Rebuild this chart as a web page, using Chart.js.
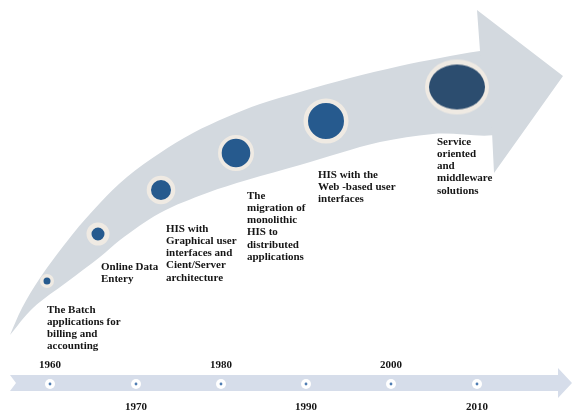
<!DOCTYPE html>
<html>
<head>
<meta charset="utf-8">
<script src="https://cdn.jsdelivr.net/npm/chart.js@4.4.1/dist/chart.umd.min.js"></script>
<style>
  html, body { margin: 0; padding: 0; background: #fff; }
  #wrap { width: 572px; height: 414px; position: relative; }
</style>
</head>
<body>
<div id="wrap"><canvas id="chart"></canvas></div>
<script>
// milestones along the big curved arrow
const milestoneX = [47, 98, 161, 236, 326, 457];
const milestoneY = [281, 234, 190, 153, 121, 87];

const milestoneText = [
    ['The Batch', 'applications for', 'billing and', 'accounting'],
    ['Online Data', 'Entery'],
    ['HIS with', 'Graphical user', 'interfaces and', 'Cient/Server', 'architecture'],
    ['The', 'migration of', 'monolithic', 'HIS to', 'distributed', 'applications'],
    ['HIS with the', 'Web -based user', 'interfaces'],
    ['Service', 'oriented', 'and', 'middleware', 'solutions']
];
const textX = [47, 101, 166, 247, 318, 437];
const textY = [310, 267, 229, 196, 175, 142];

// big arrow: curved body (upper edge then lower edge) and the head
const bodyX = [10, 22, 40, 72, 100, 127, 160, 193, 227, 260, 300, 350, 400, 440, 480, 510,
    510, 433, 380, 340, 300, 247, 207, 160, 120, 100, 67, 33, 10];
const bodyY = [335, 308, 278, 235, 203, 177, 153, 133, 117, 104, 92, 78, 66, 58, 51, 48,
    128, 134, 142, 153, 165, 180, 193, 213, 240, 257, 282, 308, 335];
const headX = [477, 563, 494, 492, 480, 477];
const headY = [10, 76, 173, 132, 51, 10];

// timeline at the bottom
const years = ['1960', '1970', '1980', '1990', '2000', '2010'];
const yearX = [50, 136, 221, 306, 391, 477];
const timelineY = 384;
const timeArrowX = [10, 558, 558, 572, 558, 558, 10, 16, 10];
const timeArrowY = [375, 375, 368, 383, 398, 391, 391, 383, 375];

const toPts = (xs, ys) => xs.map((x, i) => ({ x: x, y: Array.isArray(ys) ? ys[i] : ys }));

// inner radius / halo radius of the milestone circles
const innerR = [3.5, 6.5, 10, 14.3, 18, 28];
const haloR = [7, 11.5, 14.3, 18, 22.5, 32];

// last milestone is drawn as a flattened disc
function ellipseStyle(rx, ry, hx, hy) {
    const c = document.createElement('canvas');
    c.width = hx * 2 + 2;
    c.height = hy * 2 + 2;
    const g = c.getContext('2d');
    g.fillStyle = '#efeae3';
    g.beginPath();
    g.ellipse(c.width / 2, c.height / 2, hx, hy, 0, 0, Math.PI * 2);
    g.fill();
    g.fillStyle = '#2c4d6f';
    g.beginPath();
    g.ellipse(c.width / 2, c.height / 2, rx, ry, 0, 0, Math.PI * 2);
    g.fill();
    return c;
}
const bigDisc = ellipseStyle(28, 22.5, 32, 27.5);

const textPlugin = {
    id: 'textPlugin',
    afterDatasetsDraw(chart) {
        const ctx = chart.ctx;
        const xs = chart.scales.x, ys = chart.scales.y;
        ctx.save();
        ctx.fillStyle = '#151515';
        ctx.font = 'bold 11px "Liberation Serif", "DejaVu Serif", serif';
        ctx.textBaseline = 'middle';
        ctx.textAlign = 'left';
        milestoneText.forEach((lines, i) => {
            lines.forEach((line, j) => {
                ctx.fillText(line, xs.getPixelForValue(textX[i]), ys.getPixelForValue(textY[i] + j * 12.2));
            });
        });
        ctx.textAlign = 'center';
        years.forEach((yr, i) => {
            const y = i % 2 === 0 ? timelineY - 19 : timelineY + 23;
            ctx.fillText(yr, xs.getPixelForValue(yearX[i]), ys.getPixelForValue(y));
        });
        ctx.restore();
    }
};

const shape = (label, xs, ys, color, tension, order) => ({
    label: label,
    data: toPts(xs, ys),
    showLine: true,
    fill: 'shape',
    backgroundColor: color,
    borderWidth: 0,
    pointRadius: 0,
    tension: tension,
    order: order
});

new Chart(document.getElementById('chart'), {
    type: 'scatter',
    data: {
        datasets: [
            {
                label: 'milestones',
                data: toPts(milestoneX, milestoneY),
                pointStyle: c => c.dataIndex === milestoneX.length - 1 ? bigDisc : 'circle',
                pointRadius: innerR.map((r, i) => (r + haloR[i]) / 2),
                pointBorderWidth: innerR.map((r, i) => haloR[i] - r),
                pointBackgroundColor: '#265a8e',
                pointBorderColor: '#efeae3',
                pointHoverRadius: innerR.map((r, i) => (r + haloR[i]) / 2),
                order: 1
            },
            {
                label: 'year dots',
                data: toPts(yearX, timelineY),
                pointRadius: 1.4,
                pointBorderWidth: 0,
                pointBackgroundColor: '#4f7db3',
                order: 2
            },
            {
                label: 'year rings',
                data: toPts(yearX, timelineY),
                pointRadius: 5,
                pointBorderWidth: 0,
                pointBackgroundColor: '#ffffff',
                order: 3
            },
            shape('timeline', timeArrowX, timeArrowY, '#d6ddea', 0, 4),
            shape('arrow head', headX, headY, '#d3d9df', 0, 5),
            shape('arrow body', bodyX, bodyY, '#d3d9df', 0.35, 6)
        ]
    },
    options: {
        responsive: true,
        maintainAspectRatio: false,
        animation: false,
        layout: { padding: 0, autoPadding: false },
        plugins: {
            legend: { display: false },
            tooltip: { enabled: false }
        },
        scales: {
            x: { type: 'linear', min: 0, max: 572, display: false },
            y: { type: 'linear', min: 0, max: 414, reverse: true, display: false }
        }
    },
    plugins: [textPlugin]
});
</script>
</body>
</html>
